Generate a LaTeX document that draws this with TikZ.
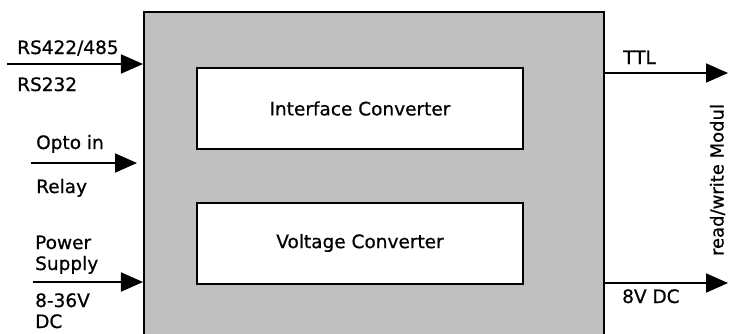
\documentclass[tikz,border=0pt]{standalone}
\usepackage{fontspec}
\setmainfont{DejaVu Sans}[FakeBold=0.6]
\usetikzlibrary{arrows.meta}
\begin{document}
\begin{tikzpicture}[x=1bp,y=-1bp,
  lbl/.style={inner sep=0pt,anchor=base west,font=\fontsize{18.5bp}{22bp}\selectfont},
  block/.style={draw=black,line width=2bp,fill=white,minimum width=326bp,minimum height=81bp,inner sep=0pt,font=\fontsize{18.5bp}{22bp}\selectfont},
  sig/.style={line width=1.8bp,-{Triangle[length=22bp,width=19bp]}}
]
\clip (0,0) rectangle (730,333);
\fill[white] (0,0) rectangle (730,333);
\node[draw=black,line width=2bp,fill={rgb,255:red,192;green,192;blue,192},minimum width=460bp,minimum height=333bp,inner sep=0pt] (main) at (374,178.5) {};
\node[block] (ic) at (360,108.5) {Interface Converter};
\node[block] (vc) at (360,243) {Voltage Converter};
% left labels
\node[lbl] (l1) at (17,54) {RS422/485};
\node[lbl] (l2) at (17,91) {RS232};
\node[lbl] (l3) at (36,149) {Opto in};
\node[lbl] (l4) at (36,193) {Relay};
\node[lbl] (l5) at (35,249) {Power};
\node[lbl] (l6) at (35,270) {Supply};
\node[lbl] (l7) at (35,307) {8-36V};
\node[lbl] (l8) at (35,328) {DC};
% right labels
\node[lbl] (r1) at (623,64) {TTL};
\node[lbl] (r2) at (622,303) {8V DC};
\node[inner sep=0pt,rotate=90,font=\fontsize{18bp}{22bp}\selectfont] (rw) at (717.5,180) {read/write Modul};
% connectors
\coordinate (a1) at (7,64);
\coordinate (a2) at (31,163);
\coordinate (a3) at (33,282);
\coordinate (e2) at (137,163);
\coordinate (b1) at (728,73);
\coordinate (b2) at (728,283);
\draw[sig] (a1) -- (a1 -| main.west);
\draw[sig] (a2) -- (e2);
\draw[sig] (a3) -- (a3 -| main.west);
\draw[sig] (b1 -| main.east) -- (b1);
\draw[sig] (b2 -| main.east) -- (b2);
\end{tikzpicture}
\end{document}
